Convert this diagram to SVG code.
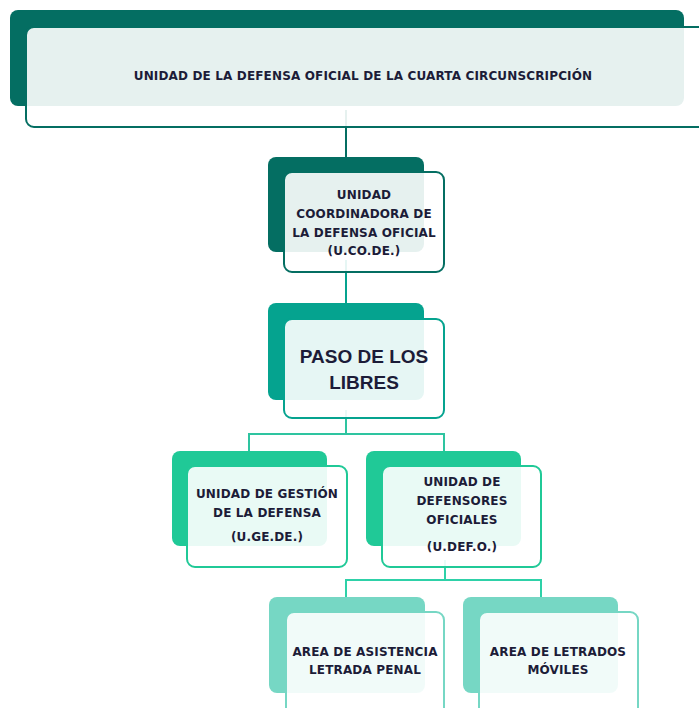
<svg xmlns="http://www.w3.org/2000/svg" width="699" height="708" viewBox="0 0 699 708">
<style>
.t{font-family:"DejaVu Sans","Liberation Sans",sans-serif;font-weight:bold;font-size:12px;letter-spacing:0.15px;fill:#1c1c38;text-anchor:middle}
.big{font-family:"Liberation Sans",Arial,sans-serif;font-size:19px;letter-spacing:0}
.front{fill:#ffffff;fill-opacity:0.9;stroke-width:2}
.c{fill:none;stroke-width:2}
</style>
<rect width="699" height="708" fill="#ffffff"/>
<g id="connectors">
<line class="c" x1="346" y1="110" x2="346" y2="158" stroke="#046e62"/>
<line class="c" x1="346" y1="260" x2="346" y2="304" stroke="#05a38f"/>
<polyline class="c" points="346,410 346,434 249,434 249,452" stroke="#2ec4a0"/>
<polyline class="c" points="346,434 444,434 444,452" stroke="#2ec4a0"/>
<polyline class="c" points="445,560 445,580 346,580 346,598" stroke="#2ed1a8"/>
<polyline class="c" points="445,580 541,580 541,598" stroke="#2ed1a8"/>
</g>
<g id="n1">
<rect x="10" y="10" width="674" height="96" rx="8" fill="#046e62"/>
<rect class="front" x="26" y="27" width="680" height="100" rx="8" stroke="#046e62"/>
<text class="t" x="363" y="80">UNIDAD DE LA DEFENSA OFICIAL DE LA CUARTA CIRCUNSCRIPCIÓN</text>
</g>
<g id="n2">
<rect x="268" y="157" width="156" height="95" rx="8" fill="#046e62"/>
<rect class="front" x="284" y="172" width="160" height="100" rx="8" stroke="#046e62"/>
<text class="t" x="364" y="199">UNIDAD</text>
<text class="t" x="364" y="218">COORDINADORA DE</text>
<text class="t" x="364" y="237">LA DEFENSA OFICIAL</text>
<text class="t" x="364" y="255">(U.CO.DE.)</text>
</g>
<g id="n3">
<rect x="268" y="303" width="156" height="97" rx="8" fill="#05a38f"/>
<rect class="front" x="284" y="319" width="160" height="99" rx="8" stroke="#05a38f"/>
<text class="t big" x="364" y="363">PASO DE LOS</text>
<text class="t big" x="364" y="389">LIBRES</text>
</g>
<g id="n4">
<rect x="172" y="451" width="155" height="95" rx="8" fill="#20c997"/>
<rect class="front" x="187" y="466" width="160" height="101" rx="8" stroke="#20c997"/>
<text class="t" x="267" y="498">UNIDAD DE GESTIÓN</text>
<text class="t" x="267" y="517">DE LA DEFENSA</text>
<text class="t" x="267" y="541">(U.GE.DE.)</text>
</g>
<g id="n5">
<rect x="366" y="451" width="155" height="95" rx="8" fill="#20c997"/>
<rect class="front" x="382" y="466" width="159" height="101" rx="8" stroke="#20c997"/>
<text class="t" x="462" y="486">UNIDAD DE</text>
<text class="t" x="462" y="505">DEFENSORES</text>
<text class="t" x="462" y="524">OFICIALES</text>
<text class="t" x="462" y="551">(U.DEF.O.)</text>
</g>
<g id="n6">
<rect x="269" y="597" width="156" height="96" rx="8" fill="#76d7c4"/>
<rect class="front" x="286" y="612" width="158" height="110" rx="8" stroke="#76d7c4"/>
<text class="t" x="365" y="656">AREA DE ASISTENCIA</text>
<text class="t" x="365" y="674">LETRADA PENAL</text>
</g>
<g id="n7">
<rect x="463" y="597" width="155" height="96" rx="8" fill="#76d7c4"/>
<rect class="front" x="479" y="612" width="159" height="110" rx="8" stroke="#76d7c4"/>
<text class="t" x="558" y="656">AREA DE LETRADOS</text>
<text class="t" x="558" y="674">MÓVILES</text>
</g>
</svg>
